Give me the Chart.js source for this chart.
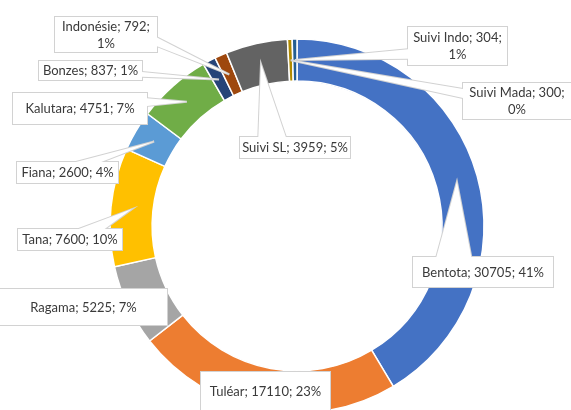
<!DOCTYPE html>
<html><head><meta charset="utf-8">
<script src="https://cdn.jsdelivr.net/npm/chart.js@4.4.0/dist/chart.umd.min.js"></script>
<style>html,body{margin:0;padding:0;background:#fff;overflow:hidden}#wrap{width:571px;height:410px;position:relative}</style>
</head><body><div id="wrap"><canvas id="c" width="571" height="410"></canvas></div>
<script>
const categories = ['Bentota','Tuléar','Ragama','Tana','Fiana','Kalutara','Bonzes','Indonésie','Suivi SL','Suivi Mada','Suivi Indo'];
const values = [30705,17110,5225,7600,2600,4751,837,792,3959,300,304];
const percentLabels = ['41%','23%','7%','10%','4%','7%','1%','1%','5%','0%','1%'];

// styles / layout (kept apart from data)
const colors = ['#4472C4','#ED7D31','#A5A5A5','#FFC000','#5B9BD5','#70AD47','#264478','#9E480E','#636363','#B08A00','#255E91'];
const calloutBoxes = [
  {dx:116,  dy:31,   w:140, h:30},
  {dx:-96,  dy:146,  w:129, h:38},
  {dx:-297, dy:63,   w:167, h:36},
  {dx:-279, dy:3,    w:104, h:21},
  {dx:-280, dy:-64,  w:101, h:21},
  {dx:-284, dy:-133, w:134, h:31},
  {dx:-258, dy:-165, w:103, h:19},
  {dx:-242, dy:-209, w:102, h:35, wrap:true},
  {dx:-57,  dy:-89,  w:110, h:21},
  {dx:166,  dy:-143, w:108, h:36, wrap:true},
  {dx:111,  dy:-199, w:99,  h:38, wrap:true}
];
const FONT = '13px Lato';
const TEXT_COLOR = '#3a3a3a';
const BORDER_COLOR = '#d2d2d2';

const calloutPlugin = {
  id:'callouts',
  afterDatasetsDraw(chart){
    const ctx = chart.ctx;
    const meta = chart.getDatasetMeta(0);
    meta.data.forEach((arc,i)=>{
      const p = arc.getProps(['x','y','startAngle','endAngle','innerRadius','outerRadius'], true);
      const mid = (p.startAngle+p.endAngle)/2;
      const rm = (p.innerRadius+p.outerRadius)/2;
      const tx = p.x + rm*Math.cos(mid), ty = p.y + rm*Math.sin(mid);
      const b = calloutBoxes[i];
      const bx = p.x + b.dx, by = p.y + b.dy, bw = b.w, bh = b.h;
      const cx = bx + bw/2, cy = by + bh/2;
      let tri = null;
      const inside = tx>=bx && tx<=bx+bw && ty>=by && ty<=by+bh;
      if(!inside){
        const ddx = tx-cx, ddy = ty-cy;
        if(Math.abs(ddx)/bw > Math.abs(ddy)/bh){
          const ex = ddx>0 ? bx+bw : bx;
          const y1 = by + bh*(ddy>0?7:2)/12, y2 = by + bh*(ddy>0?10:5)/12;
          tri = [[ex,y1],[tx,ty],[ex,y2]];
        } else {
          const ey = ddy>0 ? by+bh : by;
          const x1 = bx + bw*(ddx>0?7:2)/12, x2 = bx + bw*(ddx>0?10:5)/12;
          tri = [[x1,ey],[tx,ty],[x2,ey]];
        }
      }
      ctx.save();
      ctx.lineJoin='miter';
      ctx.strokeStyle = BORDER_COLOR; ctx.lineWidth = 2;
      ctx.strokeRect(bx,by,bw,bh);
      if(tri){ctx.beginPath();ctx.moveTo(...tri[0]);ctx.lineTo(...tri[1]);ctx.lineTo(...tri[2]);ctx.closePath();ctx.stroke();}
      ctx.fillStyle='#ffffff';
      ctx.fillRect(bx,by,bw,bh);
      if(tri){ctx.beginPath();ctx.moveTo(...tri[0]);ctx.lineTo(...tri[1]);ctx.lineTo(...tri[2]);ctx.closePath();ctx.fill();}
      ctx.fillStyle = TEXT_COLOR; ctx.font = FONT; ctx.textAlign='center'; ctx.textBaseline='middle';
      const head = categories[i] + '; ' + values[i] + ';';
      if(b.wrap){
        ctx.fillText(head, cx, cy-8);
        ctx.fillText(percentLabels[i], cx, cy+9);
      } else {
        ctx.fillText(head + ' ' + percentLabels[i], cx, cy+0.5);
      }
      ctx.restore();
    });
  }
};

new Chart(document.getElementById('c').getContext('2d'), {
  type:'doughnut',
  data:{labels:categories, datasets:[{data:values, backgroundColor:colors, borderColor:'#ffffff', borderWidth:1.5, hoverOffset:0, clip:false}]},
  options:{
    responsive:false, animation:false, events:[],
    radius:187, cutout:142, rotation:0,
    layout:{padding:{top:42,left:23,right:0,bottom:0}},
    plugins:{legend:{display:false}, tooltip:{enabled:false}}
  },
  plugins:[calloutPlugin]
});
</script></body></html>
